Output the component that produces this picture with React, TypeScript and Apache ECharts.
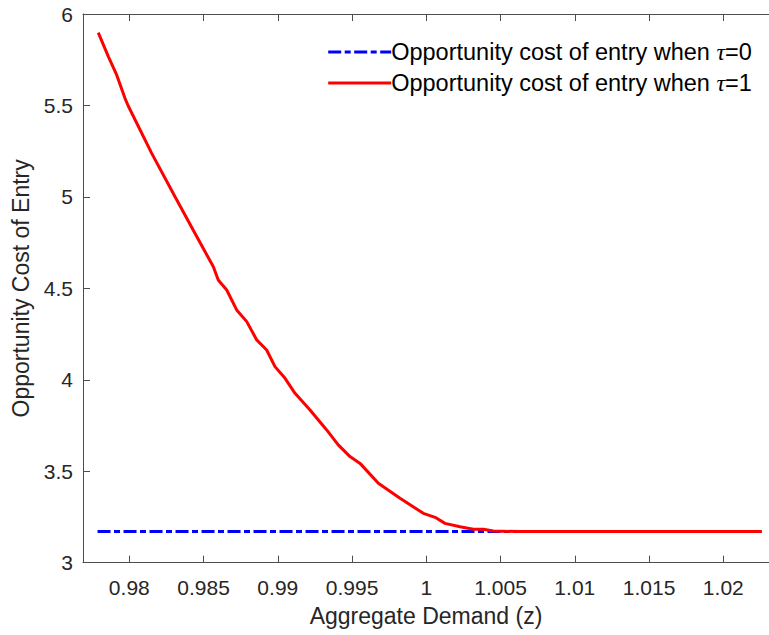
import React, { useEffect, useRef } from "react";
import * as echarts from "echarts";

const zTau1: number[] = [
  0.97791, 0.97859, 0.97915, 0.97971, 0.97993, 0.98151, 0.98308, 0.98442,
  0.98566, 0.98599, 0.98656, 0.98723, 0.98791, 0.98858, 0.98925, 0.98981,
  0.99049, 0.99116, 0.99217, 0.99329, 0.99407, 0.99486, 0.99554, 0.99677,
  0.99823, 0.9998, 1.00059, 1.00126, 1.00227, 1.00317, 1.00384, 1.00451,
  1.00631, 1.0226,
];
const costTau1: number[] = [
  5.898, 5.767, 5.667, 5.539, 5.497, 5.238, 5.001, 4.801, 4.618, 4.546,
  4.491, 4.382, 4.318, 4.218, 4.163, 4.072, 4.008, 3.926, 3.835, 3.726,
  3.644, 3.58, 3.543, 3.434, 3.352, 3.27, 3.248, 3.215, 3.197, 3.183,
  3.183, 3.173, 3.17, 3.17,
];
const zTau0: number[] = [0.97786, 1.0226];
const costTau0: number[] = [3.17, 3.17];

const xTicks: number[] = [0.98, 0.985, 0.99, 0.995, 1, 1.005, 1.01, 1.015, 1.02];
const seriesNames: string[] = [
  "Opportunity cost of entry when τ=0",
  "Opportunity cost of entry when τ=1",
];
const xTitle = "Aggregate Demand (z)";
const yTitle = "Opportunity Cost of Entry";

const AXIS_COLOR = "#4d4d4d";
const FONT = "'Liberation Sans', Arial, Helvetica, sans-serif";

export default function App() {
  const ref = useRef<HTMLDivElement>(null);
  useEffect(() => {
    if (!ref.current) return;
    const chart = echarts.init(ref.current, null, { renderer: "svg" });
    const xMin = 0.976882;
    const xMax = 1.023077;
    const fmt = (v: number) => String(parseFloat(Number(v).toFixed(4)));
    const baseX = {
      type: "value" as const,
      min: xMin,
      max: xMax,
      splitLine: { show: false },
      axisLine: { show: true, lineStyle: { color: AXIS_COLOR, width: 1 } },
      axisTick: {
        show: true,
        inside: true,
        length: 7,
        customValues: xTicks,
        lineStyle: { color: AXIS_COLOR },
      },
    };
    chart.setOption({
      animation: false,
      backgroundColor: "#ffffff",
      textStyle: { fontFamily: FONT },
      grid: { left: 83, top: 14, right: 0, bottom: 72.3, containLabel: false },
      legend: {
        orient: "vertical",
        left: 321.7,
        top: 35,
        itemWidth: 63,
        itemHeight: 14,
        itemGap: 7,
        selectedMode: false,
        data: seriesNames,
        itemStyle: { color: "transparent", borderWidth: 0, opacity: 0 },
        lineStyle: { width: 3 },
        formatter: (name: string) => name.replace("τ", "{t|τ}"),
        textStyle: {
          fontFamily: FONT,
          fontSize: 23.5,
          color: "#000000",
          lineHeight: 24,
          padding: [0, 0, 0, -5],
          rich: {
            t: {
              fontFamily: "'Liberation Serif', 'Times New Roman', serif",
              fontStyle: "italic",
              fontSize: 24,
              lineHeight: 24,
              color: "#000000",
            },
          },
        },
      },
      xAxis: [
        {
          ...baseX,
          position: "bottom",
          name: xTitle,
          nameLocation: "middle",
          nameGap: 42,
          nameTextStyle: { fontFamily: FONT, fontSize: 23, color: "#262626" },
          axisLabel: {
            show: true,
            customValues: xTicks,
            formatter: fmt,
            margin: 14,
            fontFamily: FONT,
            fontSize: 21,
            color: "#262626",
          },
        },
        {
          ...baseX,
          position: "top",
          axisLabel: { show: false },
        },
      ],
      yAxis: {
        type: "value",
        min: 3,
        max: 6,
        interval: 0.5,
        splitLine: { show: false },
        name: yTitle,
        nameLocation: "middle",
        nameGap: 47,
        nameTextStyle: { fontFamily: FONT, fontSize: 23, color: "#262626" },
        axisLine: { show: true, lineStyle: { color: AXIS_COLOR, width: 1 } },
        axisTick: { show: true, inside: true, length: 7, lineStyle: { color: AXIS_COLOR } },
        axisLabel: {
          margin: 10,
          fontFamily: FONT,
          fontSize: 21,
          color: "#262626",
          formatter: fmt,
        },
      },
      series: [
        {
          name: seriesNames[0],
          type: "line",
          xAxisIndex: 0,
          symbol: "none",
          data: zTau0.map((z, i) => [z, costTau0[i]]),
          lineStyle: { color: "#0000ff", width: 3, type: [13, 3.5, 6, 3.5], cap: "butt" },
          itemStyle: { color: "#0000ff" },
          z: 2,
        },
        {
          name: seriesNames[1],
          type: "line",
          xAxisIndex: 0,
          symbol: "none",
          data: zTau1.map((z, i) => [z, costTau1[i]]),
          lineStyle: { color: "#ff0000", width: 3 },
          itemStyle: { color: "#ff0000" },
          z: 3,
        },
      ],
    });
    return () => chart.dispose();
  }, []);
  return (
    <div
      ref={ref}
      style={{ position: "fixed", left: 0, top: 0, width: 769, height: 635, background: "#fff" }}
    />
  );
}
